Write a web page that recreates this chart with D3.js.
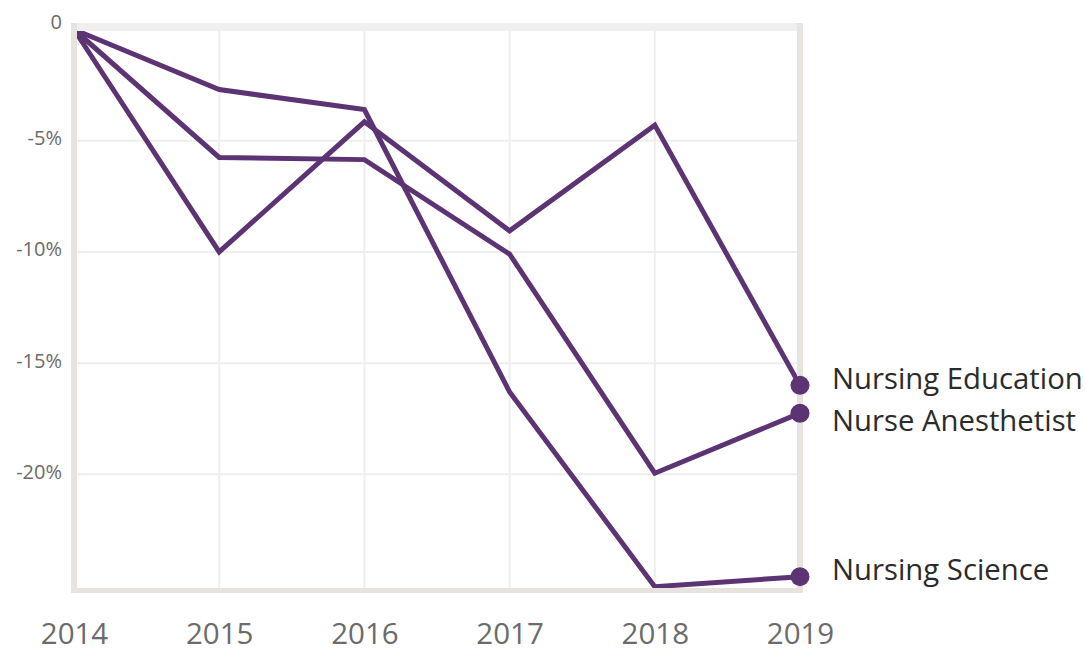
<!DOCTYPE html>
<html>
<head>
<meta charset="utf-8">
<script src="https://cdn.jsdelivr.net/npm/d3@7"></script>
<style>
  body { margin: 0; background: #fff; }
  svg { display: block; font-family: 'Open Sans', sans-serif; }
</style>
</head>
<body>
<div id="chart"></div>
<script>
// years along the x axis
var years = [2014, 2015, 2016, 2017, 2018, 2019];
var yTicks = [0, -5, -10, -15, -20];

// percent change since 2014
var nursingScience = [0, -2.7, -3.6, -16.3, -25.05, -24.6];
var nursingEducation = [0, -10.0, -4.15, -9.05, -4.3, -16.0];
var nurseAnesthetist = [0, -5.75, -5.85, -10.1, -19.95, -17.25];

var seriesNames = ['Nursing Education', 'Nurse Anesthetist', 'Nursing Science'];
var seriesValues = [nursingEducation, nurseAnesthetist, nursingScience];

var width = 1086, height = 648;
var plotLeft = 74, plotRight = 800, plotTop = 29.5, plotBottom = 590;
var purple = '#5c3473';
var frameColor = '#e7e4e0';
var gridColor = '#efeeec';

var svg = d3.select('#chart').append('svg')
  .attr('width', width)
  .attr('height', height);

var x = d3.scaleLinear().domain([2014, 2019]).range([plotLeft, plotRight]);
var y = d3.scaleLinear().domain([0, -25.2]).range([plotTop, plotBottom]);

// gridlines
svg.append('g').selectAll('line.hgrid')
  .data(yTicks.filter(function (d) { return d !== 0; }))
  .enter().append('line')
  .attr('x1', plotLeft + 3).attr('x2', plotRight + 3)
  .attr('y1', function (d) { return y(d); })
  .attr('y2', function (d) { return y(d); })
  .attr('stroke', gridColor).attr('stroke-width', 2);

svg.append('g').selectAll('line.vgrid')
  .data(years.slice(1, -1))
  .enter().append('line')
  .attr('x1', function (d) { return x(d); })
  .attr('x2', function (d) { return x(d); })
  .attr('y1', plotTop).attr('y2', plotBottom)
  .attr('stroke', gridColor).attr('stroke-width', 2);

// y tick labels
var yAxis = d3.axisLeft(y)
  .tickValues(yTicks)
  .tickSize(0)
  .tickPadding(0)
  .tickFormat(function (d) { return d === 0 ? '0' : d + '%'; });

var yAxisG = svg.append('g')
  .attr('transform', 'translate(62,0)')
  .call(yAxis);
yAxisG.select('.domain').remove();
yAxisG.selectAll('text')
  .attr('font-family', 'Open Sans')
  .attr('font-size', 20)
  .attr('fill', '#6b6b6b')
  .attr('dy', function (d) { return d === 0 ? '-0.05em' : '0.2em'; });

// x tick labels
var xAxis = d3.axisBottom(x)
  .tickValues(years)
  .tickSize(0)
  .tickPadding(0)
  .tickFormat(d3.format('d'));

var xAxisG = svg.append('g')
  .attr('transform', 'translate(0,' + 623 + ')')
  .call(xAxis);
xAxisG.select('.domain').remove();
xAxisG.selectAll('text')
  .attr('font-family', 'Open Sans')
  .attr('font-size', 29.5)
  .attr('fill', '#6b6b6b');

// lines
var line = d3.line()
  .x(function (d, i) { return x(years[i]); })
  .y(function (d) { return y(d); });

svg.append('g').selectAll('path')
  .data(seriesValues)
  .enter().append('path')
  .attr('d', line)
  .attr('fill', 'none')
  .attr('stroke', purple)
  .attr('stroke-width', 5)
  .attr('stroke-linejoin', 'miter');

// frame
var frame = svg.append('g');
frame.append('line')
  .attr('x1', plotLeft - 3).attr('x2', plotRight - 3)
  .attr('y1', 27).attr('y2', 27)
  .attr('stroke', '#f0efed').attr('stroke-width', 8);
frame.append('line')
  .attr('x1', plotLeft).attr('x2', plotLeft)
  .attr('y1', 23).attr('y2', plotBottom + 3)
  .attr('stroke', frameColor).attr('stroke-width', 6);
frame.append('line')
  .attr('x1', plotRight).attr('x2', plotRight)
  .attr('y1', 23).attr('y2', plotBottom + 3)
  .attr('stroke', frameColor).attr('stroke-width', 6);
frame.append('line')
  .attr('x1', plotLeft - 3).attr('x2', plotRight + 3)
  .attr('y1', plotBottom + 0.5).attr('y2', plotBottom + 0.5)
  .attr('stroke', frameColor).attr('stroke-width', 5);

// end dots
var ends = seriesValues.map(function (vals, i) {
  return { name: seriesNames[i], value: vals[vals.length - 1] };
});

svg.append('g').selectAll('circle')
  .data(ends)
  .enter().append('circle')
  .attr('cx', x(2019))
  .attr('cy', function (d) { return y(d.value); })
  .attr('r', 9.5)
  .attr('fill', purple);

// end labels, nudged apart so they don't overlap
var labelY = ends.map(function (d) { return y(d.value) - 7; });
for (var i = 1; i < labelY.length; i++) {
  if (labelY[i] - labelY[i - 1] < 42) labelY[i] = labelY[i - 1] + 42;
}

svg.append('g').selectAll('text')
  .data(ends)
  .enter().append('text')
  .attr('x', 832)
  .attr('y', function (d, i) { return labelY[i]; })
  .attr('dy', '0.35em')
  .attr('font-size', 29.3)
  .attr('fill', '#2b2b2b')
  .text(function (d) { return d.name; });
</script>
</body>
</html>
